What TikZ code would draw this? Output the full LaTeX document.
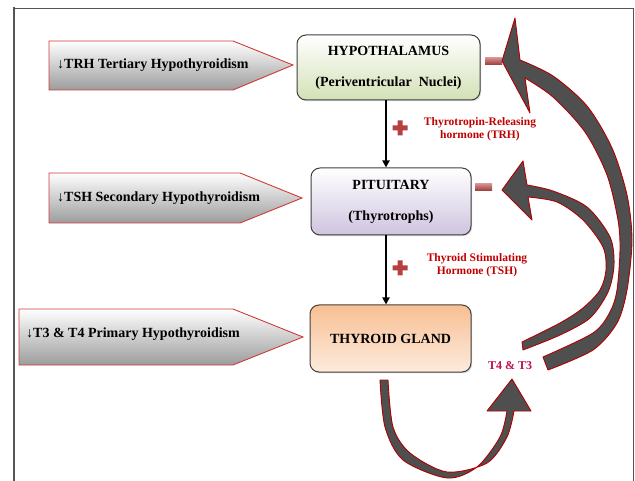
\documentclass[tikz,border=0pt]{standalone}
\usepackage{fontspec}
\setmainfont{Liberation Serif}
\usetikzlibrary{arrows.meta,shadows,calc}
\definecolor{hypgreen}{HTML}{D3E1B6}
\definecolor{pitlav}{HTML}{CEC4DF}
\definecolor{thyor}{HTML}{F8BF93}
\definecolor{thylight}{HTML}{FDEBDD}
\definecolor{boxedge}{HTML}{404040}
\definecolor{pentred}{HTML}{D23A3A}
\definecolor{pentgray}{HTML}{9C9C9C}
\definecolor{labred}{HTML}{C00000}
\definecolor{tred}{HTML}{C0104A}
\definecolor{arrgray}{HTML}{4F4F4F}
\definecolor{arredge}{HTML}{B00000}
\definecolor{signred}{HTML}{B5403F}
\definecolor{framegray}{HTML}{555555}
\begin{document}
\begin{tikzpicture}[x=1pt,y=-1pt,
  box/.style={draw=boxedge, line width=1pt, rounded corners=9pt, align=center,
    font=\bfseries\fontsize{14}{16.8}\selectfont,
    drop shadow={opacity=0.3,shadow xshift=1.2pt,shadow yshift=-1.2pt}},
  penttext/.style={anchor=west, font=\bfseries\fontsize{14}{16.8}\selectfont, inner sep=0pt},
  pent/.style={top color=white, bottom color=pentgray, draw=pentred, line width=0.9pt},
  lab/.style={align=center, text=labred, font=\bfseries\fontsize{11.5}{12.5}\selectfont, inner sep=0pt},
  conn/.style={line width=2pt, -{Triangle[length=7pt,width=7pt]}},
  bigarrow/.style={fill=arrgray, draw=arredge, line width=0.9pt, line join=round},
  minussign/.style={top color=signred!60!white, bottom color=signred!85!black, minimum width=17pt, minimum height=7pt, inner sep=0pt},
  plussign/.pic={\fill[signred] (-2.5,-7.5) -- (2.5,-7.5) -- (2.5,-2.5) -- (7.5,-2.5) -- (7.5,2.5) -- (2.5,2.5) -- (2.5,7.5) -- (-2.5,7.5) -- (-2.5,2.5) -- (-7.5,2.5) -- (-7.5,-2.5) -- (-2.5,-2.5) -- cycle;}
]
\useasboundingbox (0,0) rectangle (635,481);
\fill[white] (0,0) rectangle (635,481);
% frame
\draw[framegray, line width=0.7pt] (14,8) -- (633,8) -- (633,481);
\draw[framegray, line width=2pt] (14,7.5) -- (14,481);

% pentagons
\shade[pent] (49,41) -- (233,41) -- (293,65) -- (233,90) -- (49,90) -- cycle;
\shade[pent] (49,173) -- (240,173) -- (302,198) -- (240,223) -- (49,223) -- cycle;
\shade[pent] (19,309) -- (233,309) -- (303,337) -- (233,365) -- (19,365) -- cycle;
\node[penttext] (t1) at (57,65) {↓TRH Tertiary Hypothyroidism};
\node[penttext] (t2) at (57,198) {↓TSH Secondary Hypothyroidism};
\node[penttext] (t3) at (26,334) {↓T3 \& T4 Primary Hypothyroidism};

% boxes
\node[box, top color=white, bottom color=hypgreen, minimum width=183pt, minimum height=65pt] (hyp) at (388.5,67.5) {HYPOTHALAMUS\\[14pt](Periventricular\ \ Nuclei)};
\node[box, top color=white, bottom color=pitlav, minimum width=160pt, minimum height=67pt] (pit) at (391,201.5) {PITUITARY\\[14pt](Thyrotrophs)};
\node[box, top color=thyor, bottom color=thylight, minimum width=161pt, minimum height=67pt] (thy) at (390.5,338.5) {THYROID GLAND};

% connectors
\coordinate (cx) at (386,0);
\draw[conn] (hyp.south -| cx) -- (pit.north -| cx);
\draw[conn] (pit.south -| cx) -- (thy.north -| cx);

% labels and signs
\node[lab] (trhlab) at (480,129) {Thyrotropin-Releasing\\hormone (TRH)};
\node[lab] (tshlab) at (477,265) {Thyroid Stimulating\\Hormone (TSH)};
\pic at (400,128) {plussign};
\pic at (400,268) {plussign};
\node[minussign] (m1) at (493.5,61.5) {};
\node[minussign] (m2) at (483.5,187.5) {};

% big feedback arrows
\filldraw[bigarrow] plot[smooth] coordinates {(548,370) (593,350) (617,323) (627,290) (632,240) (627,195) (612,148) (587,106) (553,76) (520,60)}
  -- (515,18) -- (502,61) -- (530,113) -- (525,78)
  -- plot[smooth] coordinates {(525,78) (553,97) (585,132) (607,175) (618,220) (620,250) (617,290) (610,312) (593,333) (543,357)} -- cycle;
\filldraw[bigarrow] plot[smooth] coordinates {(523,350) (560,335) (590,318) (608,292) (614,265) (610,237) (587,207) (553,191) (527,185)}
  -- (523,161) -- (502,190) -- (532,220) -- (528,197)
  -- plot[smooth] coordinates {(528,197) (557,202) (583,220) (603,247) (606,270) (600,290) (583,308) (560,323) (522,342)} -- cycle;
\filldraw[bigarrow] plot[smooth] coordinates {(380,380) (385,427) (403,460) (447,478) (477,467) (500,437) (507,411)}
  -- (487,411) -- (512,379) -- (531,411) -- (514,411)
  -- plot[smooth] coordinates {(514,411) (507,437) (487,463) (447,472) (410,453) (393,427) (388,380)} -- cycle;

\node[text=tred, font=\bfseries\fontsize{12}{14}\selectfont, inner sep=0pt] (t4t3) at (510,366) {T4 \& T3};
\end{tikzpicture}
\end{document}
